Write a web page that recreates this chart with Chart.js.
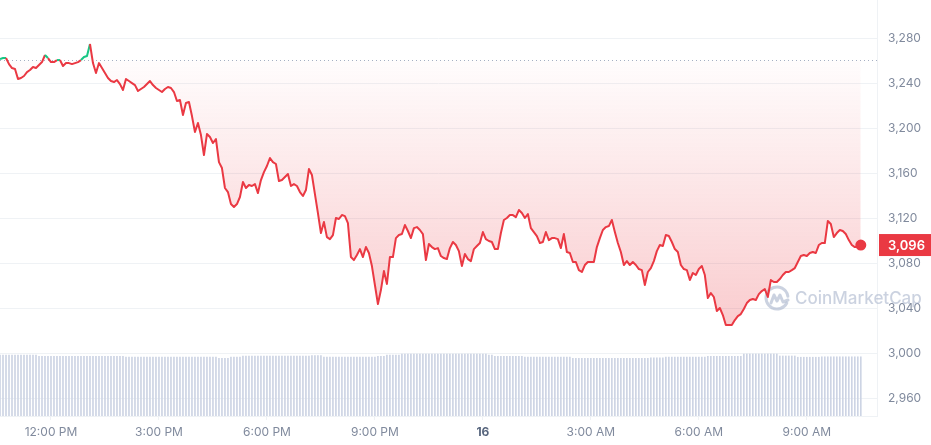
<!DOCTYPE html>
<html lang="en">
<head>
  <meta charset="UTF-8" />
  <title>ETH price · 24h</title>
  <script src="https://cdn.jsdelivr.net/npm/chart.js"></script>
  <style>
    html, body { margin: 0; padding: 0; background: #fff; }
    #wrap { position: relative; width: 931px; height: 445px; }
  </style>
</head>
<body>
  <div id="wrap"><canvas id="priceChart"></canvas></div>

  <script>
    // 5-minute samples, first one at 10:35 AM on the 15th (minutes since midnight)
    const startMinute = 635;
    const stepMinutes = 5;
    const openPrice = 3261;

    const prices = [
      3262.0, 3262.9, 3262.9, 3257.5, 3254.0, 3253.1, 3244.2, 3245.1, 3246.9, 3250.4,
      3252.2, 3254.9, 3254.0, 3256.7, 3259.3, 3265.6, 3262.9, 3259.3, 3259.3, 3261.1,
      3261.1, 3255.8, 3258.4, 3258.4, 3257.5, 3258.4, 3259.3, 3261.1, 3263.8, 3264.7,
      3275.4, 3258.4, 3249.5, 3258.4, 3254.0, 3249.5, 3245.1, 3242.4, 3241.5, 3243.3,
      3239.7, 3234.4, 3244.2, 3242.4, 3240.6, 3238.8, 3233.5, 3235.3, 3237.1, 3239.7,
      3242.4, 3238.8, 3236.2, 3234.4, 3232.6, 3235.3, 3237.1, 3236.2, 3232.6, 3224.6,
      3225.5, 3212.1, 3222.8, 3223.7, 3211.2, 3197.0, 3205.0, 3194.3, 3176.5, 3195.2,
      3192.5, 3187.2, 3190.7, 3170.2, 3164.9, 3147.1, 3143.5, 3132.8, 3130.2, 3132.8,
      3139.1, 3152.4, 3147.1, 3149.8, 3148.9, 3150.6, 3142.6, 3154.2, 3161.3, 3166.7,
      3173.8, 3170.2, 3168.5, 3153.3, 3154.2, 3156.9, 3159.6, 3148.9, 3150.6, 3148.9,
      3143.5, 3140.0, 3145.3, 3164.0, 3158.7, 3141.7, 3124.8, 3107.0, 3116.8, 3103.4,
      3101.6, 3105.2, 3120.4, 3119.5, 3123.0, 3122.1, 3115.9, 3085.6, 3082.9, 3087.4,
      3092.7, 3085.6, 3094.5, 3089.2, 3077.6, 3060.7, 3043.7, 3056.2, 3073.1, 3061.6,
      3085.6, 3085.6, 3102.5, 3105.2, 3106.1, 3114.1, 3108.8, 3102.5, 3111.4, 3112.3,
      3109.7, 3106.1, 3082.9,
      3097.2, 3094.5, 3092.7, 3093.6, 3086.5, 3084.7, 3083.8, 3093.6, 3099.0, 3096.3,
      3090.9, 3077.6, 3088.3, 3083.8, 3082.0, 3092.7, 3095.4, 3098.1, 3107.9, 3101.6,
      3099.9, 3099.0, 3092.7, 3092.7, 3107.0, 3118.6, 3120.4, 3123.0, 3123.0, 3121.2,
      3127.5, 3124.8, 3120.4, 3123.9, 3111.4, 3107.9, 3104.3, 3098.1, 3099.0, 3107.9,
      3100.7, 3102.5, 3102.5, 3101.6, 3093.6, 3106.1, 3090.1, 3089.2, 3081.2, 3081.2,
      3074.0, 3072.3, 3078.5, 3081.2, 3081.2, 3081.2, 3094.5, 3102.5, 3109.7, 3112.3,
      3113.2, 3118.6, 3107.9, 3098.1, 3090.1, 3078.5, 3082.0, 3078.5, 3081.2, 3078.5,
      3074.9, 3074.0, 3060.7, 3072.3, 3075.8, 3082.0, 3090.9, 3096.3, 3095.4, 3105.2,
      3104.3, 3099.0, 3092.7, 3090.1, 3078.5, 3074.9, 3074.0, 3065.1, 3071.4, 3069.6,
      3074.9, 3077.6, 3069.6, 3049.1, 3053.5, 3050.0, 3037.5, 3040.2,
      3033.9, 3025.0, 3025.0, 3025.0, 3029.5, 3033.0, 3034.8, 3039.3, 3044.6, 3047.3,
      3048.2, 3047.3, 3052.6, 3055.3, 3057.1, 3050.0, 3065.1, 3063.4, 3063.4, 3066.0,
      3069.6, 3072.3, 3072.3, 3074.0, 3075.8, 3081.2, 3086.5, 3087.4, 3086.5, 3089.2,
      3090.1, 3089.2, 3096.3, 3098.1, 3098.1, 3117.7, 3115.0, 3103.4, 3107.0, 3109.7,
      3108.8, 3106.1, 3100.7, 3096.3, 3094.5, 3094.5, 3096.3
    ];

    // 24h volume (billions USD), one bar per sample
    const volumes = [
      15.25, 15.25, 15.25, 15.25, 15.25, 15.25, 15.25, 15.25, 15.25, 15.25, 15.25, 15.25, 15.25,
      14.9, 14.9, 14.9, 14.9, 14.9, 14.9, 14.9, 14.9, 14.9, 14.9, 14.9, 14.9, 14.9, 14.9, 14.9,
      14.9, 14.9, 14.9, 14.9, 14.9, 14.9, 14.9, 14.9, 14.9, 14.9, 14.9, 14.9, 14.9, 14.9,
      14.7, 14.7, 14.7, 14.7, 14.7, 14.7, 14.7, 14.7, 14.7, 14.7, 14.7, 14.7, 14.7, 14.7, 14.7, 14.7, 14.7, 14.7,
      14.75, 14.75, 14.75, 14.75, 14.75, 14.75, 14.75, 14.75, 14.75, 14.75, 14.75, 14.75, 14.75,
      14.4, 14.4, 14.4, 14.4,
      14.7, 14.7, 14.7, 14.7,
      15.0, 15.0, 15.0, 15.0, 15.0, 15.0, 15.0, 15.0, 15.0, 15.0, 15.0, 15.0, 15.0, 15.0, 15.0,
      15.0, 15.0, 15.0, 15.0, 15.0, 15.0, 15.0, 15.0,
      15.1, 15.1, 15.1, 15.1,
      14.7, 14.7, 14.7, 14.7, 14.7, 14.7, 14.7, 14.7,
      14.75, 14.75, 14.75, 14.75, 14.75, 14.75, 14.75, 14.75, 14.75, 14.75,
      14.9, 14.9, 14.9,
      15.25, 15.25, 15.25, 15.25, 15.25,
      15.5, 15.5, 15.5, 15.5, 15.5, 15.5, 15.5, 15.5, 15.5, 15.5, 15.5, 15.5, 15.5, 15.5, 15.5,
      15.5, 15.5, 15.5, 15.5, 15.5, 15.5, 15.5, 15.5, 15.5, 15.5, 15.5, 15.5, 15.5, 15.5,
      15.25, 15.25,
      14.9, 14.9, 14.9, 14.9, 14.9, 14.9, 14.9, 14.9, 14.9, 14.9,
      14.7, 14.7, 14.7, 14.7, 14.7, 14.7, 14.7, 14.7, 14.7, 14.7, 14.7, 14.7, 14.7, 14.7, 14.7, 14.7,
      14.4, 14.4, 14.4, 14.4, 14.4, 14.4, 14.4, 14.4, 14.4, 14.4, 14.4, 14.4, 14.4,
      14.4, 14.4, 14.4, 14.4, 14.4, 14.4, 14.4, 14.4, 14.4, 14.4, 14.4, 14.4, 14.4,
      14.55, 14.55, 14.55, 14.55, 14.55,
      14.7, 14.7, 14.7, 14.7, 14.7, 14.7, 14.7, 14.7, 14.7, 14.7, 14.7, 14.7, 14.7, 14.7,
      14.9, 14.9, 14.9, 14.9, 14.9, 14.9, 14.9, 14.9, 14.9, 14.9, 14.9, 14.9,
      15.5, 15.5, 15.5, 15.5, 15.5, 15.5, 15.5, 15.5, 15.5, 15.5, 15.5, 15.5,
      15.0, 15.0, 15.0, 15.0, 15.0, 15.0,
      14.7, 14.7, 14.7, 14.7, 14.7, 14.7, 14.7, 14.7,
      14.8, 14.8, 14.8, 14.8, 14.8, 14.8, 14.8, 14.8, 14.8, 14.8, 14.8, 14.8, 14.8, 14.8
    ];

    const priceTicks = [2960, 3000, 3040, 3080, 3120, 3160, 3200, 3240, 3280];
    const timeTicks = [720, 900, 1080, 1260, 1440, 1620, 1800, 1980];
    const timeLabels = ['12:00 PM', '3:00 PM', '6:00 PM', '9:00 PM', '16', '3:00 AM', '6:00 AM', '9:00 AM'];

    const RED = '#ea3943';
    const GREEN = '#16c784';
    const GRID = '#eff2f5';
    const LABEL = '#808a9d';

    const times = prices.map((_, i) => startMinute + i * stepMinutes);
    const pricePoints = prices.map((p, i) => ({ x: times[i], y: p }));
    const volumePoints = volumes.map((v, i) => ({ x: times[i], y: v }));
    const lastIndex = prices.length - 1;

    function fillGradient(chart, up) {
      const { ctx, chartArea, scales } = chart;
      if (!chartArea) return up ? 'rgba(22,199,132,0.1)' : 'rgba(234,57,67,0.1)';
      const yb = scales.y.getPixelForValue(openPrice);
      let g;
      if (up) {
        g = ctx.createLinearGradient(0, chartArea.top, 0, yb);
        g.addColorStop(0, 'rgba(22,199,132,0.25)');
        g.addColorStop(1, 'rgba(22,199,132,0.02)');
      } else {
        g = ctx.createLinearGradient(0, yb, 0, chartArea.bottom);
        g.addColorStop(0, 'rgba(234,57,67,0.01)');
        g.addColorStop(1, 'rgba(234,57,67,0.34)');
      }
      return g;
    }

    // dotted open-price line + watermark, under the line
    const underlay = {
      id: 'underlay',
      beforeDatasetsDraw(chart) {
        const { ctx, chartArea, scales } = chart;
        const y = Math.round(scales.y.getPixelForValue(openPrice)) + 0.5;
        ctx.save();
        ctx.strokeStyle = '#a6b0c3';
        ctx.lineWidth = 1;
        ctx.setLineDash([1, 3]);
        ctx.beginPath();
        ctx.moveTo(chartArea.left, y);
        ctx.lineTo(chartArea.right, y);
        ctx.stroke();
        ctx.setLineDash([]);

        // CoinMarketCap mark
        const cx = chartArea.right - 100, cy = chartArea.bottom - 118;
        ctx.strokeStyle = 'rgba(160,173,198,0.55)';
        ctx.fillStyle = 'rgba(160,173,198,0.55)';
        ctx.lineWidth = 3;
        ctx.lineCap = 'round';
        ctx.lineJoin = 'round';
        ctx.beginPath();
        ctx.arc(cx, cy, 11, 0.15 * Math.PI, 1.95 * Math.PI);
        ctx.stroke();
        ctx.beginPath();
        ctx.moveTo(cx - 6, cy + 5);
        ctx.lineTo(cx - 3, cy - 3);
        ctx.lineTo(cx, cy + 3);
        ctx.lineTo(cx + 3, cy - 3);
        ctx.lineTo(cx + 6, cy + 4);
        ctx.lineTo(cx + 11, cy + 2);
        ctx.stroke();
        ctx.font = '500 17px Inter';
        ctx.textAlign = 'left';
        ctx.textBaseline = 'middle';
        ctx.fillText('CoinMarketCap', cx + 18, cy + 1);
        ctx.restore();
      }
    };

    // current price tag on the right axis
    const priceTag = {
      id: 'priceTag',
      afterDraw(chart) {
        const { ctx, chartArea } = chart;
        const pt = chart.getDatasetMeta(0).data[lastIndex];
        const x0 = chartArea.right + 2;
        const h = 22;
        ctx.save();
        ctx.fillStyle = RED;
        ctx.fillRect(x0, pt.y - h / 2, chart.width - x0, h);
        ctx.fillStyle = '#fff';
        ctx.font = '600 13px Inter';
        ctx.textAlign = 'left';
        ctx.textBaseline = 'middle';
        ctx.fillText(Math.round(prices[lastIndex]).toLocaleString('en-US'), x0 + 9, pt.y + 1);
        ctx.restore();
      }
    };

    new Chart(document.getElementById('priceChart'), {
      type: 'line',
      data: {
        datasets: [
          {
            label: 'Price',
            data: pricePoints,
            yAxisID: 'y',
            order: 0,
            borderWidth: 2,
            borderColor: RED,
            borderJoinStyle: 'round',
            tension: 0,
            segment: {
              borderColor: ctx => (ctx.p0.parsed.y >= openPrice && ctx.p1.parsed.y >= openPrice) ? GREEN : RED
            },
            fill: {
              target: { value: openPrice },
              above: ctx => fillGradient(ctx.chart, true),
              below: ctx => fillGradient(ctx.chart, false)
            },
            pointRadius: ctx => ctx.dataIndex === lastIndex ? 4.5 : 0,
            pointHoverRadius: 0,
            pointBackgroundColor: RED,
            pointBorderColor: RED
          },
          {
            type: 'bar',
            label: 'Volume',
            data: volumePoints,
            yAxisID: 'vol',
            order: 1,
            barThickness: 1,
            backgroundColor: '#cdd4e4'
          }
        ]
      },
      options: {
        responsive: true,
        maintainAspectRatio: false,
        animation: false,
        events: [],
        layout: { padding: 0, autoPadding: false },
        plugins: {
          legend: { display: false },
          tooltip: { enabled: false }
        },
        scales: {
          x: {
            type: 'linear',
            position: 'bottom',
            offset: false,
            min: startMinute,
            max: 2097,
            afterBuildTicks: s => { s.ticks = timeTicks.map(v => ({ value: v })); },
            afterFit: s => { s.height = 29; s.paddingLeft = 0; s.paddingRight = 0; },
            grid: { offset: false, drawOnChartArea: false, drawTicks: true, tickLength: 4, color: GRID },
            border: { color: GRID },
            ticks: {
              autoSkip: false,
              maxRotation: 0,
              padding: 5,
              callback: v => timeLabels[timeTicks.indexOf(v)],
              color: ctx => (ctx.tick && ctx.tick.value === 1440) ? '#58667e' : LABEL,
              font: ctx => ({ family: 'Inter', size: 12, weight: (ctx.tick && ctx.tick.value === 1440) ? '700' : '400' })
            }
          },
          y: {
            position: 'right',
            min: 2944,
            max: 3314.6,
            afterBuildTicks: s => { s.ticks = priceTicks.map(v => ({ value: v })); },
            afterFit: s => { s.width = 54; s.paddingTop = 0; s.paddingBottom = 0; },
            grid: { color: GRID, drawTicks: false },
            border: { color: GRID },
            ticks: {
              padding: 11,
              color: LABEL,
              font: { family: 'Inter', size: 12 },
              callback: v => v.toLocaleString('en-US')
            }
          },
          vol: {
            display: false,
            min: 0,
            max: 104
          }
        }
      },
      plugins: [underlay, priceTag]
    });
  </script>
</body>
</html>
